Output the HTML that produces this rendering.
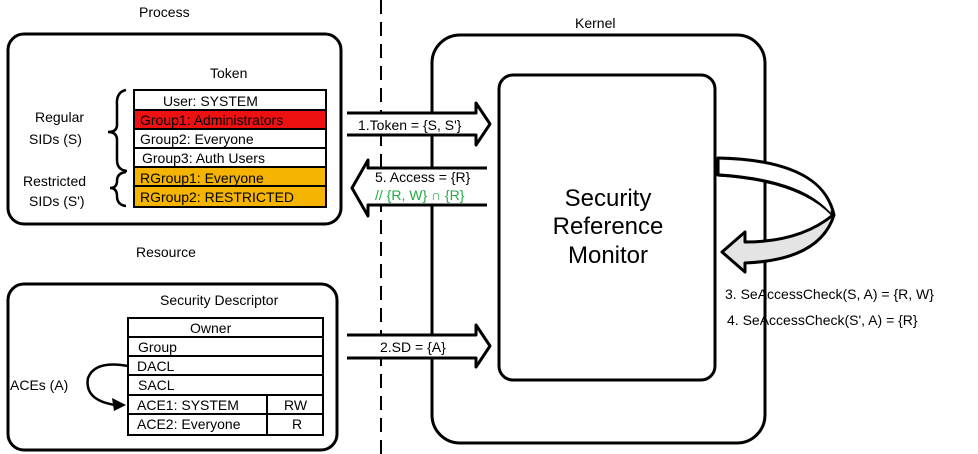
<!DOCTYPE html>
<html><head><meta charset="utf-8"><style>
html,body{margin:0;padding:0;background:#fff;}
svg{display:block;font-family:"Liberation Sans",sans-serif;}
</style></head><body>
<svg width="978" height="454" viewBox="0 0 978 454" xmlns="http://www.w3.org/2000/svg">
<g fill="none" stroke="#000" stroke-width="3">
<line x1="381" y1="0" x2="381" y2="454" stroke-width="2" stroke-dasharray="14,8"/>
<rect x="8" y="34" width="333" height="190" rx="16"/>
<rect x="8" y="284" width="329" height="166" rx="16"/>
<rect x="432" y="35" width="333" height="408" rx="28"/>
<rect x="499" y="75" width="216" height="305" rx="14"/>
</g>
<g stroke="#000" stroke-width="2">
<rect x="134" y="90" width="192" height="20" fill="#fff"/>
<rect x="134" y="110" width="192" height="19" fill="#ee1111"/>
<rect x="134" y="129" width="192" height="19" fill="#fff"/>
<rect x="134" y="148" width="192" height="19" fill="#fff"/>
<rect x="134" y="167" width="192" height="19" fill="#f5b400"/>
<rect x="134" y="186" width="192" height="21" fill="#f5b400"/>
</g>
<g font-size="14" fill="#000">
<text x="210" y="78">Token</text>
<text x="163" y="106">User: SYSTEM</text>
<text x="140" y="125">Group1: Administrators</text>
<text x="140" y="144">Group2: Everyone</text>
<text x="142" y="163">Group3: Auth Users</text>
<text x="140" y="183">RGroup1: Everyone</text>
<text x="140" y="202">RGroup2: RESTRICTED</text>
<text x="35" y="122">Regular</text>
<text x="29" y="144">SIDs (S)</text>
<text x="23" y="186">Restricted</text>
<text x="29" y="206">SIDs (S')</text>
<text x="139" y="17">Process</text>
<text x="136" y="257">Resource</text>
<text x="575" y="28">Kernel</text>
</g>
<g fill="none" stroke="#000" stroke-width="2.5">
<path d="M126,90 Q116,92 117,105 L117,125 Q117,132 108,132 Q117,132 117,140 L117,160 Q117,170 127,171"/>
<path d="M126,172 Q117,173 117,181 Q117,188 110,188 Q117,188 117,196 Q117,205 126,206"/>
</g>
<g stroke="#000" stroke-width="2" fill="#fff">
<rect x="128" y="318" width="195" height="117"/>
<line x1="128" y1="337" x2="323" y2="337"/>
<line x1="128" y1="356" x2="323" y2="356"/>
<line x1="128" y1="375" x2="323" y2="375"/>
<line x1="128" y1="395" x2="323" y2="395"/>
<line x1="128" y1="414" x2="323" y2="414"/>
<line x1="267" y1="395" x2="267" y2="435"/>
</g>
<g font-size="14" fill="#000">
<text x="160" y="305">Security Descriptor</text>
<text x="190" y="333">Owner</text>
<text x="138" y="352">Group</text>
<text x="137" y="371">DACL</text>
<text x="138" y="390">SACL</text>
<text x="137" y="410">ACE1: SYSTEM</text>
<text x="284" y="410">RW</text>
<text x="137" y="429">ACE2: Everyone</text>
<text x="292" y="429">R</text>
<text x="10" y="390">ACEs (A)</text>
</g>
<path d="M128,366 Q95,360 88,378 Q84,400 115,405" fill="none" stroke="#000" stroke-width="2.5"/>
<polygon points="126,405 112,398 114,411" fill="#000"/>
<g stroke="#000" stroke-width="3" fill="#fff" stroke-linejoin="round">
<path d="M347,113 L476,113 L476,103 L490,124 L476,145 L476,135 L347,135"/>
<path d="M487,168 L368,168 L368,160 L352,188 L368,216 L368,205 L487,205"/>
<path d="M347,335 L476,335 L476,325 L490,346 L476,367 L476,358 L347,358"/>
</g>
<g font-size="14">
<text x="358" y="130" fill="#000">1.Token = {S, S'}</text>
<text x="375" y="182" fill="#000">5. Access = {R}</text>
<text x="375" y="200" fill="#22aa44">// {R, W} ∩ {R}</text>
<text x="380" y="352" fill="#000">2.SD = {A}</text>
</g>
<path d="M718,158 L718,175 Q800,180 833,215 Q800,242 745,242 L745,232 L722,252 L745,272 L745,263 Q820,260 834,215 Q822,160 718,158 Z" fill="#e4e4e4" stroke="#000" stroke-width="3" stroke-linejoin="round"/>
<path d="M718,175 Q800,180 833,215" fill="none" stroke="#000" stroke-width="3"/>
<path d="M720,160 L720,173 Q800,178 831,213 Q822,163 720,160 Z" fill="#fff"/>
<g font-size="24" fill="#000" text-anchor="middle">
<text x="608" y="206">Security</text>
<text x="608" y="234">Reference</text>
<text x="608" y="263">Monitor</text>
</g>
<g font-size="14" fill="#000">
<text x="725" y="299">3. SeAccessCheck(S, A) = {R, W}</text>
<text x="727" y="325">4. SeAccessCheck(S', A) = {R}</text>
</g>
</svg>
</body></html>
